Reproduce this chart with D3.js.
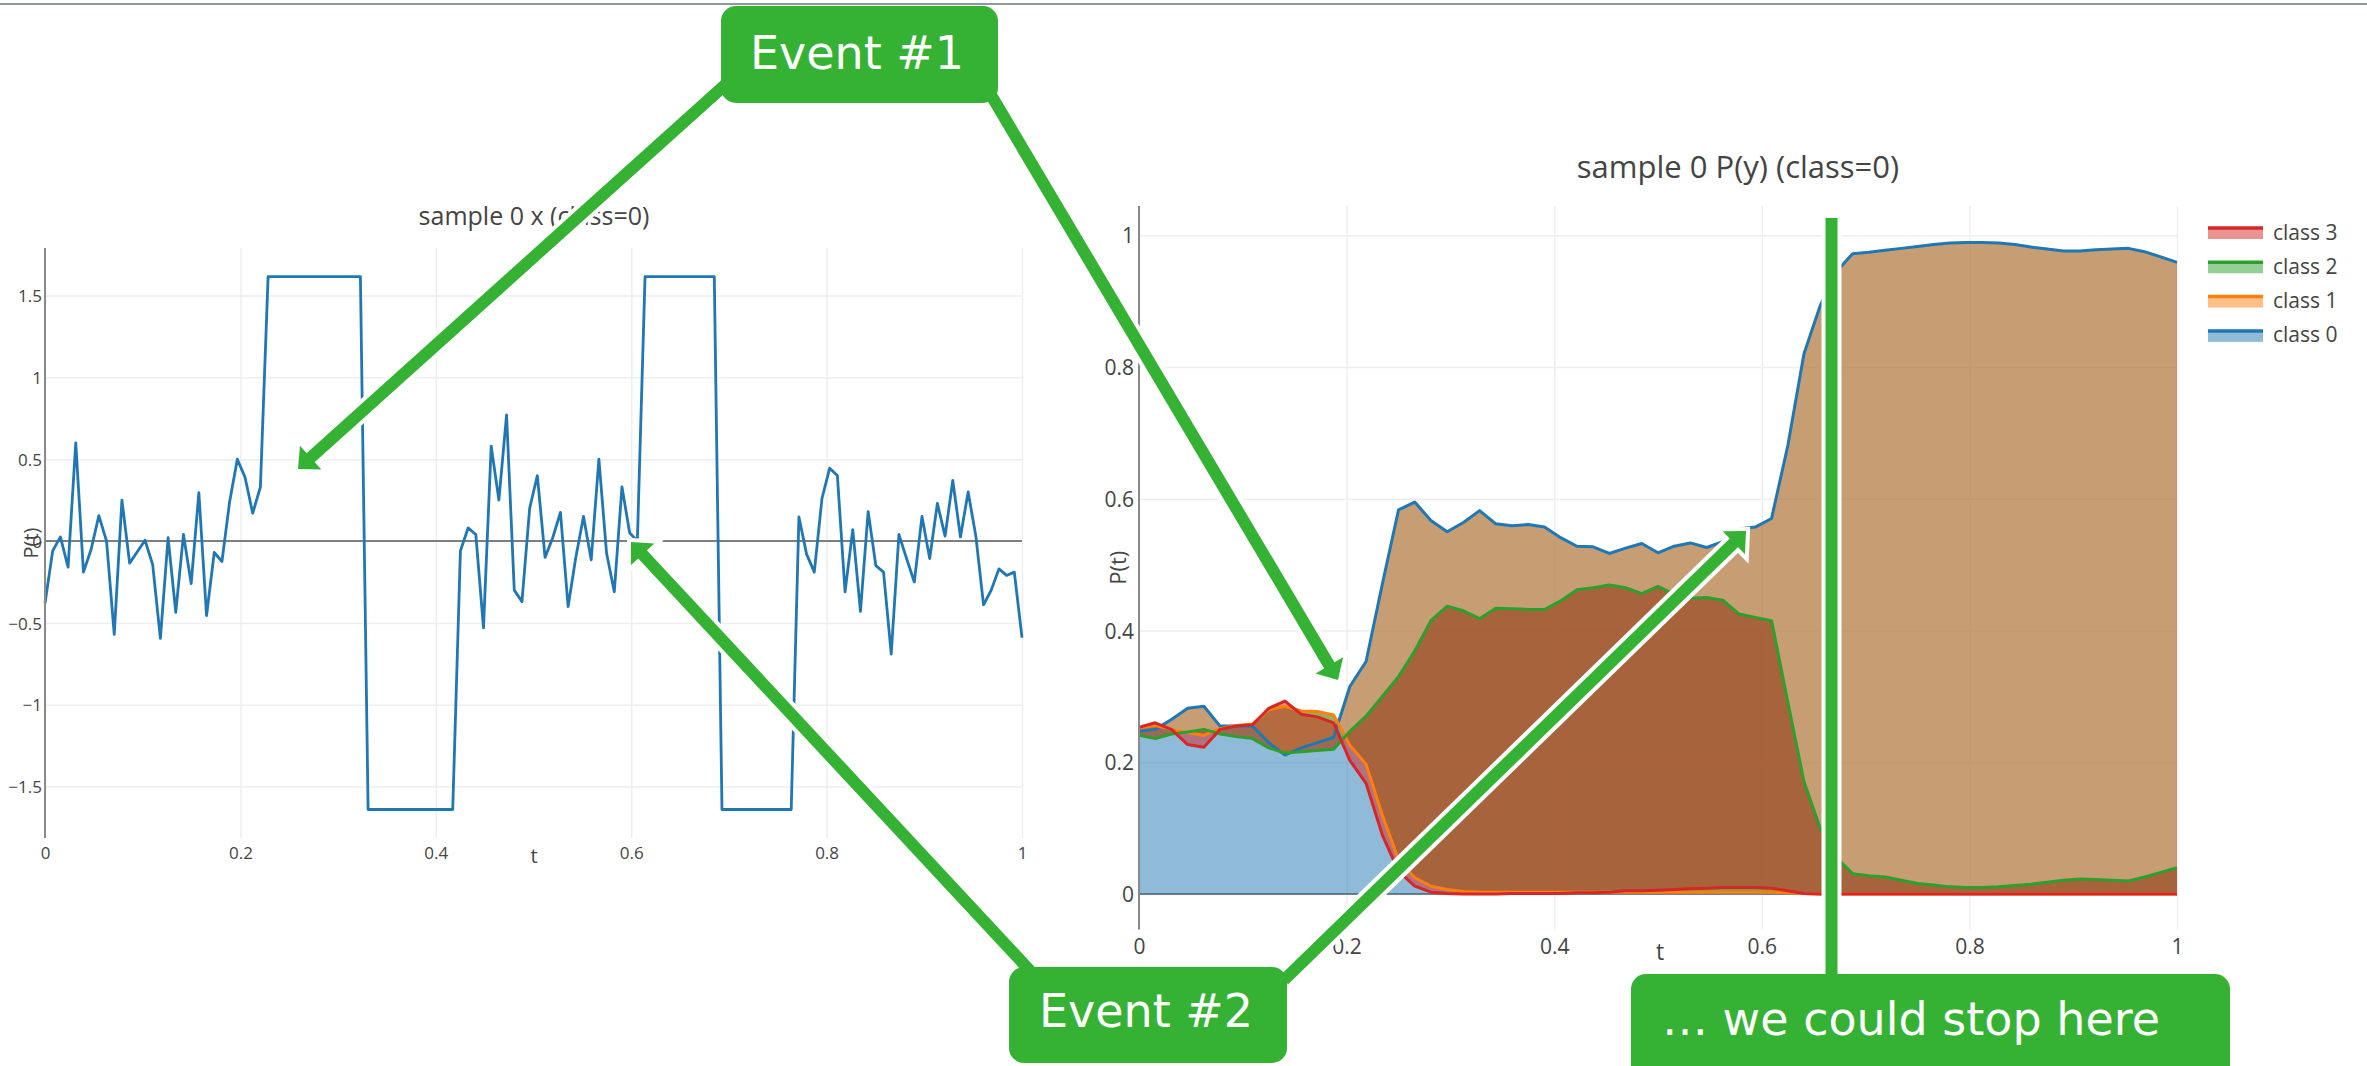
<!DOCTYPE html>
<html>
<head>
<meta charset="utf-8">
<script src="https://cdn.jsdelivr.net/npm/d3@7"></script>
<style>
  html, body { margin: 0; padding: 0; background: #fff; }
  svg { display: block; }
</style>
</head>
<body>
<svg id="chart" width="2367" height="1066"></svg>
<script>
// ---------- input signal x(t), sample 0 ----------
const signalValues = [
  -0.38, -0.06, 0.025, -0.16, 0.60, -0.19, -0.05, 0.155, 0.0, -0.57,
  0.25, -0.135, -0.065, 0.005, -0.145, -0.595, 0.02, -0.435, 0.04, -0.26,
  0.295, -0.455, -0.07, -0.125, 0.24, 0.50, 0.39, 0.17, 0.33,
  1.615, 1.615, 1.615, 1.615, 1.615, 1.615, 1.615, 1.615, 1.615, 1.615, 1.615, 1.615, 1.615,
  -1.64, -1.64, -1.64, -1.64, -1.64, -1.64, -1.64, -1.64, -1.64, -1.64, -1.64, -1.64,
  -0.06, 0.08, 0.04, -0.53, 0.58, 0.25, 0.77, -0.30, -0.37,
  0.20, 0.40, -0.10, 0.02, 0.175, -0.40, -0.10, 0.15, -0.115, 0.50, -0.075, -0.31, 0.33, 0.05, 0.0,
  1.615, 1.615, 1.615, 1.615, 1.615, 1.615, 1.615, 1.615, 1.615, 1.615,
  -1.64, -1.64, -1.64, -1.64, -1.64, -1.64, -1.64, -1.64, -1.64, -1.64,
  0.147, -0.08, -0.19, 0.26, 0.445, 0.40, -0.31, 0.07, -0.43, 0.18,
  -0.15, -0.19, -0.69, 0.04, -0.107, -0.25, 0.15, -0.107, 0.23, 0.03,
  0.37, 0.025, 0.30, 0.03, -0.39, -0.30, -0.17, -0.21, -0.19, -0.59
];
// evenly sampled time axis on [0, 1]
const signalT = d3.range(signalValues.length).map(i => i / (signalValues.length - 1));

// ---------- class probabilities P(y), sample 0 ----------
const probT = d3.range(65).map(i => i / 64);
const pClass0 = [
  0.247, 0.25, 0.265, 0.282, 0.285, 0.255, 0.255, 0.255, 0.23, 0.211,
  0.222, 0.23, 0.238, 0.315, 0.353, 0.47, 0.583, 0.595, 0.567, 0.55,
  0.564, 0.582, 0.562, 0.559, 0.561, 0.557, 0.541, 0.528, 0.527, 0.517,
  0.525, 0.532, 0.518, 0.528, 0.533, 0.526, 0.535, 0.554, 0.557, 0.57,
  0.68, 0.82, 0.893, 0.945, 0.972, 0.974, 0.977, 0.98, 0.983, 0.986,
  0.988, 0.989, 0.989, 0.988, 0.986, 0.982, 0.979, 0.976, 0.976, 0.978,
  0.979, 0.98, 0.975, 0.967, 0.959
];
const pClass1 = [
  0.252, 0.256, 0.25, 0.245, 0.241, 0.251, 0.256, 0.258, 0.28, 0.285,
  0.278, 0.277, 0.272, 0.226, 0.197, 0.12, 0.052, 0.025, 0.012, 0.007,
  0.004, 0.003, 0.003, 0.003, 0.003, 0.003, 0.003, 0.003, 0.003, 0.003,
  0.003, 0.003, 0.003, 0.003, 0.003, 0.003, 0.003, 0.003, 0.003, 0.003,
  0.002, 0.001, 0, 0, 0, 0, 0, 0, 0, 0,
  0, 0, 0, 0, 0, 0, 0, 0, 0, 0,
  0, 0, 0, 0, 0
];
const pClass2 = [
  0.241, 0.236, 0.243, 0.246, 0.25, 0.243, 0.239, 0.236, 0.222, 0.214,
  0.216, 0.218, 0.22, 0.247, 0.27, 0.30, 0.33, 0.369, 0.415, 0.437,
  0.43, 0.418, 0.434, 0.433, 0.432, 0.432, 0.445, 0.462, 0.465, 0.469,
  0.465, 0.456, 0.467, 0.455, 0.449, 0.45, 0.446, 0.425, 0.42, 0.415,
  0.292, 0.171, 0.10, 0.055, 0.031, 0.028, 0.026, 0.021, 0.016, 0.014,
  0.011, 0.010, 0.010, 0.011, 0.013, 0.015, 0.018, 0.021, 0.023, 0.022,
  0.021, 0.020, 0.026, 0.033, 0.04
];
const pClass3 = [
  0.253, 0.26, 0.25, 0.227, 0.223, 0.25, 0.255, 0.257, 0.282, 0.293,
  0.273, 0.269, 0.26, 0.203, 0.168, 0.09, 0.035, 0.012, 0.003, 0.001,
  0, 0, 0, 0.001, 0.001, 0.001, 0.001, 0.002, 0.002, 0.003,
  0.005, 0.005, 0.006, 0.007, 0.008, 0.009, 0.010, 0.010, 0.010, 0.009,
  0.005, 0.001, 0, 0, 0, 0, 0, 0, 0, 0,
  0, 0, 0, 0, 0, 0, 0, 0, 0, 0,
  0, 0, 0, 0, 0
];
const classNames = ['class 0', 'class 1', 'class 2', 'class 3'];
const classSeries = [pClass0, pClass1, pClass2, pClass3];
const classColors = ['#1f77b4', '#ff7f0e', '#2ca02c', '#d62728'];

// ---------- tick labels ----------
const tTicks = [0, 0.2, 0.4, 0.6, 0.8, 1];
const xTicksLeft = [-1.5, -1, -0.5, 0, 0.5, 1, 1.5];
const pTicksRight = [0, 0.2, 0.4, 0.6, 0.8, 1];

// ---------- callouts ----------
const callouts = [
  { text: 'Event #1', box: [721, 6, 998, 103], baseline: 69, cx: 857 },
  { text: 'Event #2', box: [1009, 967, 1287, 1063], baseline: 1027, cx: 1146 },
  { text: '\u2026 we could stop here', box: [1631, 974, 2230, 1090], baseline: 1035, cx: 1911 }
];
const arrows = [
  { from: [725, 85], to: [298, 469] },
  { from: [991, 95], to: [1338, 680] },
  { from: [1034, 975], to: [631, 542] },
  { from: [1284, 980], to: [1746, 531] }
];
const stopMarker = { x: 1831.5, y0: 218, y1: 985 };

const GREEN = '#35b234';
const TEXT = '#444';
const FONT = "'Open Sans', sans-serif";
const fmt = d3.format('~g');

const svg = d3.select('#chart');

// thin rule across the top
svg.append('line').attr('x1', 0).attr('x2', 2367).attr('y1', 4).attr('y2', 4)
  .attr('stroke', '#8e989d').attr('stroke-width', 2);

function styleAxis(g, fontSize) {
  g.select('.domain').remove();
  g.selectAll('.tick line').attr('stroke', '#eeeeee').attr('stroke-width', 1.5);
  g.selectAll('.tick text').attr('fill', TEXT).attr('font-family', FONT).attr('font-size', fontSize);
}

// ============ left panel: sample 0 x ============
const L = { x0: 45, x1: 1022, y0: 248, y1: 838 };
const xL = d3.scaleLinear().domain([0, 1]).range([L.x0, L.x1]);
const yL = d3.scaleLinear().domain([-1.814, 1.790]).range([L.y1, L.y0]);
const left = svg.append('g');

left.append('g').attr('transform', `translate(0,${L.y1})`)
  .call(d3.axisBottom(xL).tickValues(tTicks).tickFormat(fmt)
    .tickSize(-(L.y1 - L.y0)).tickPadding(9))
  .call(g => styleAxis(g, 17));
left.append('g').attr('transform', `translate(${L.x0},0)`)
  .call(d3.axisLeft(yL).tickValues(xTicksLeft).tickFormat(fmt)
    .tickSize(-(L.x1 - L.x0)).tickPadding(3))
  .call(g => styleAxis(g, 17))
  .call(g => g.selectAll('.tick text').attr('dy', '0.36em'));

// zero line and axis line
left.append('line').attr('x1', L.x0).attr('x2', L.x1).attr('y1', yL(0)).attr('y2', yL(0))
  .attr('stroke', '#7f7f7f').attr('stroke-width', 2);

left.append('path').datum(signalValues)
  .attr('fill', 'none').attr('stroke', '#1f77b4').attr('stroke-width', 2.8)
  .attr('stroke-linejoin', 'round')
  .attr('d', d3.line().x((d, i) => xL(signalT[i])).y(d => yL(d)));

left.append('line').attr('x1', L.x0).attr('x2', L.x0).attr('y1', L.y0).attr('y2', L.y1)
  .attr('stroke', '#8a8a8a').attr('stroke-width', 2);

left.append('text').attr('x', 534).attr('y', 225).attr('text-anchor', 'middle')
  .attr('font-family', FONT).attr('font-size', 25).attr('fill', TEXT)
  .text('sample 0 x (class=0)');
left.append('text').attr('x', 534).attr('y', 863).attr('text-anchor', 'middle')
  .attr('font-family', FONT).attr('font-size', 20).attr('fill', TEXT).text('t');
left.append('text').attr('transform', `translate(38,${(L.y0 + L.y1) / 2}) rotate(-90)`)
  .attr('text-anchor', 'middle')
  .attr('font-family', FONT).attr('font-size', 20).attr('fill', TEXT).text('P(t)');

// ============ right panel: sample 0 P(y) ============
const R = { x0: 1139, x1: 2177, y0: 206, y1: 929.5 };
const xR = d3.scaleLinear().domain([0, 1]).range([R.x0, R.x1]);
const yR = d3.scaleLinear().domain([-0.0537, 1.0443]).range([R.y1, R.y0]);
const right = svg.append('g');

svg.append('defs').append('clipPath').attr('id', 'clipR')
  .append('rect').attr('x', R.x0).attr('y', R.y0).attr('width', R.x1 - R.x0).attr('height', R.y1 - R.y0);

right.append('g').attr('transform', `translate(0,${R.y1})`)
  .call(d3.axisBottom(xR).tickValues(tTicks).tickFormat(fmt)
    .tickSize(-(R.y1 - R.y0)).tickPadding(10))
  .call(g => styleAxis(g, 21));
right.append('g').attr('transform', `translate(${R.x0},0)`)
  .call(d3.axisLeft(yR).tickValues(pTicksRight).tickFormat(fmt)
    .tickSize(-(R.x1 - R.x0)).tickPadding(5))
  .call(g => styleAxis(g, 21))
  .call(g => g.selectAll('.tick text').attr('dy', '0.36em'));

right.append('line').attr('x1', R.x0).attr('x2', R.x1).attr('y1', yR(0)).attr('y2', yR(0))
  .attr('stroke', '#7f7f7f').attr('stroke-width', 2);

const plotR = right.append('g').attr('clip-path', 'url(#clipR)');
const zeros = probT.map(() => 0);
// each class fills down to the previous class curve (class 0 to zero)
classSeries.forEach((vals, k) => {
  const prev = k === 0 ? zeros : classSeries[k - 1];
  plotR.append('path').datum(vals)
    .attr('fill', classColors[k]).attr('fill-opacity', 0.5)
    .attr('d', d3.area()
      .x((d, i) => xR(probT[i]))
      .y0((d, i) => yR(prev[i]))
      .y1(d => yR(d)));
});
classSeries.forEach((vals, k) => {
  plotR.append('path').datum(vals)
    .attr('fill', 'none').attr('stroke', classColors[k]).attr('stroke-width', 3)
    .attr('stroke-linejoin', 'round')
    .attr('d', d3.line().x((d, i) => xR(probT[i])).y(d => yR(d)));
});

right.append('line').attr('x1', R.x0).attr('x2', R.x0).attr('y1', R.y0).attr('y2', R.y1)
  .attr('stroke', '#8a8a8a').attr('stroke-width', 2);

right.append('text').attr('x', 1738).attr('y', 178).attr('text-anchor', 'middle')
  .attr('font-family', FONT).attr('font-size', 31).attr('fill', TEXT)
  .text('sample 0 P(y) (class=0)');
right.append('text').attr('x', 1660).attr('y', 960).attr('text-anchor', 'middle')
  .attr('font-family', FONT).attr('font-size', 23).attr('fill', TEXT).text('t');
right.append('text').attr('transform', `translate(1126,${(R.y0 + R.y1) / 2}) rotate(-90)`)
  .attr('text-anchor', 'middle')
  .attr('font-family', FONT).attr('font-size', 22).attr('fill', TEXT).text('P(t)');

// legend, listed top-down from the last class
const legend = right.append('g');
const legendOrder = [3, 2, 1, 0];
legendOrder.forEach((k, j) => {
  const cy = 232 + j * 34.3;
  legend.append('rect').attr('x', 2208).attr('y', cy - 4).attr('width', 55).attr('height', 11)
    .attr('fill', classColors[k]).attr('fill-opacity', 0.5);
  legend.append('line').attr('x1', 2208).attr('x2', 2263).attr('y1', cy - 4).attr('y2', cy - 4)
    .attr('stroke', classColors[k]).attr('stroke-width', 3.5);
  legend.append('text').attr('x', 2273).attr('y', cy).attr('dy', '0.36em')
    .attr('font-family', FONT).attr('font-size', 21).attr('fill', TEXT)
    .text(classNames[k]);
});

// ============ callouts ============
const notes = svg.append('g');
const SHAFT = 12, HALO = 4, HEAD_LEN = 17, HEAD_HALF = 16;

function arrowGeometry(a) {
  const [x1, y1] = a.from, [x2, y2] = a.to;
  const len = Math.hypot(x2 - x1, y2 - y1);
  const ux = (x2 - x1) / len, uy = (y2 - y1) / len;
  const bx = x2 - ux * HEAD_LEN, by = y2 - uy * HEAD_LEN;
  const head = [[x2, y2], [bx - uy * HEAD_HALF, by + ux * HEAD_HALF], [bx + uy * HEAD_HALF, by - ux * HEAD_HALF]];
  return { x1, y1, bx: bx + ux * 2, by: by + uy * 2, head };
}

// white halos first, then the green strokes on top
arrows.forEach(a => {
  const g = arrowGeometry(a);
  notes.append('line').attr('x1', g.x1).attr('y1', g.y1).attr('x2', g.bx).attr('y2', g.by)
    .attr('stroke', '#fff').attr('stroke-width', SHAFT + 2 * HALO);
  notes.append('polygon').attr('points', g.head.map(p => p.join(',')).join(' '))
    .attr('fill', '#fff').attr('stroke', '#fff').attr('stroke-width', 2 * HALO)
    .attr('stroke-linejoin', 'miter');
});
notes.append('line').attr('x1', stopMarker.x).attr('x2', stopMarker.x)
  .attr('y1', stopMarker.y0 - HALO).attr('y2', stopMarker.y1)
  .attr('stroke', '#fff').attr('stroke-width', SHAFT + 2 * HALO);

arrows.forEach(a => {
  const g = arrowGeometry(a);
  notes.append('line').attr('x1', g.x1).attr('y1', g.y1).attr('x2', g.bx).attr('y2', g.by)
    .attr('stroke', GREEN).attr('stroke-width', SHAFT);
  notes.append('polygon').attr('points', g.head.map(p => p.join(',')).join(' '))
    .attr('fill', GREEN);
});
notes.append('line').attr('x1', stopMarker.x).attr('x2', stopMarker.x)
  .attr('y1', stopMarker.y0).attr('y2', stopMarker.y1)
  .attr('stroke', GREEN).attr('stroke-width', SHAFT);

callouts.forEach(c => {
  const [x0, y0, x1, y1] = c.box;
  notes.append('rect').attr('x', x0).attr('y', y0).attr('width', x1 - x0).attr('height', y1 - y0)
    .attr('rx', 15).attr('ry', 15).attr('fill', GREEN);
  notes.append('text').attr('x', c.cx).attr('y', c.baseline).attr('text-anchor', 'middle')
    .attr('font-family', "'DejaVu Sans', sans-serif").attr('font-size', 46).attr('fill', '#fff')
    .text(c.text);
});
</script>
</body>
</html>
